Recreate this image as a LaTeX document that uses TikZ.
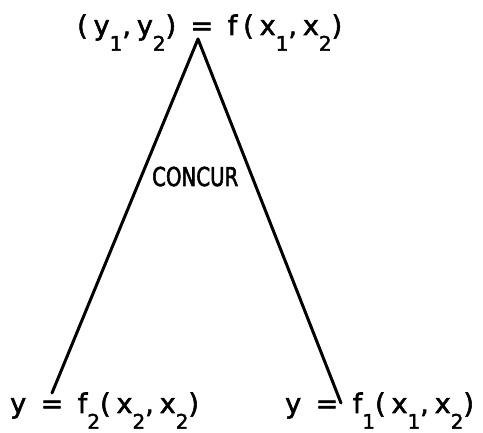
\documentclass[tikz,border=0pt]{standalone}
\usepackage{fontspec}
\setmainfont{DejaVu Sans}
\newfontfamily\formulafont[LetterSpace=22, FakeBold=2]{DejaVu Sans}
\newfontfamily\tagfont[FakeStretch=0.76, FakeBold=2]{DejaVu Sans}
\newcommand{\idx}[1]{\raisebox{-0.58em}{\fontsize{20}{20}\selectfont #1}}

\begin{document}
\begin{tikzpicture}[
  x=1pt, y=-1pt,
  formula/.style={inner sep=0pt, anchor=base west,
                  font=\fontsize{27}{27}\formulafont},
  tag/.style={inner sep=0pt, anchor=base west,
              font=\fontsize{26}{26}\tagfont},
  branch/.style={line width=3pt, line cap=round},
]
\useasboundingbox (0,0) rectangle (483,433);

% --- Equations ---
\node[formula] (joint) at (77,35) {(y\idx{1},y\idx{2}) = f(x\idx{1},x\idx{2})};
\node[formula] (left)  at (10,413) {y = f\idx{2}(x\idx{2},x\idx{2})};
\node[formula] (right) at (285,413) {y = f\idx{1}(x\idx{1},x\idx{2})};

% --- Tree ---
\coordinate (apex)     at (198,39);
\coordinate (leftend)  at (52,393);
\coordinate (rightend) at (341,403);
\draw[branch] (apex) -- (leftend);
\draw[branch] (apex) -- (rightend);

\node[tag] (concur) at (152,186) {CONCUR};

\end{tikzpicture}
\end{document}
